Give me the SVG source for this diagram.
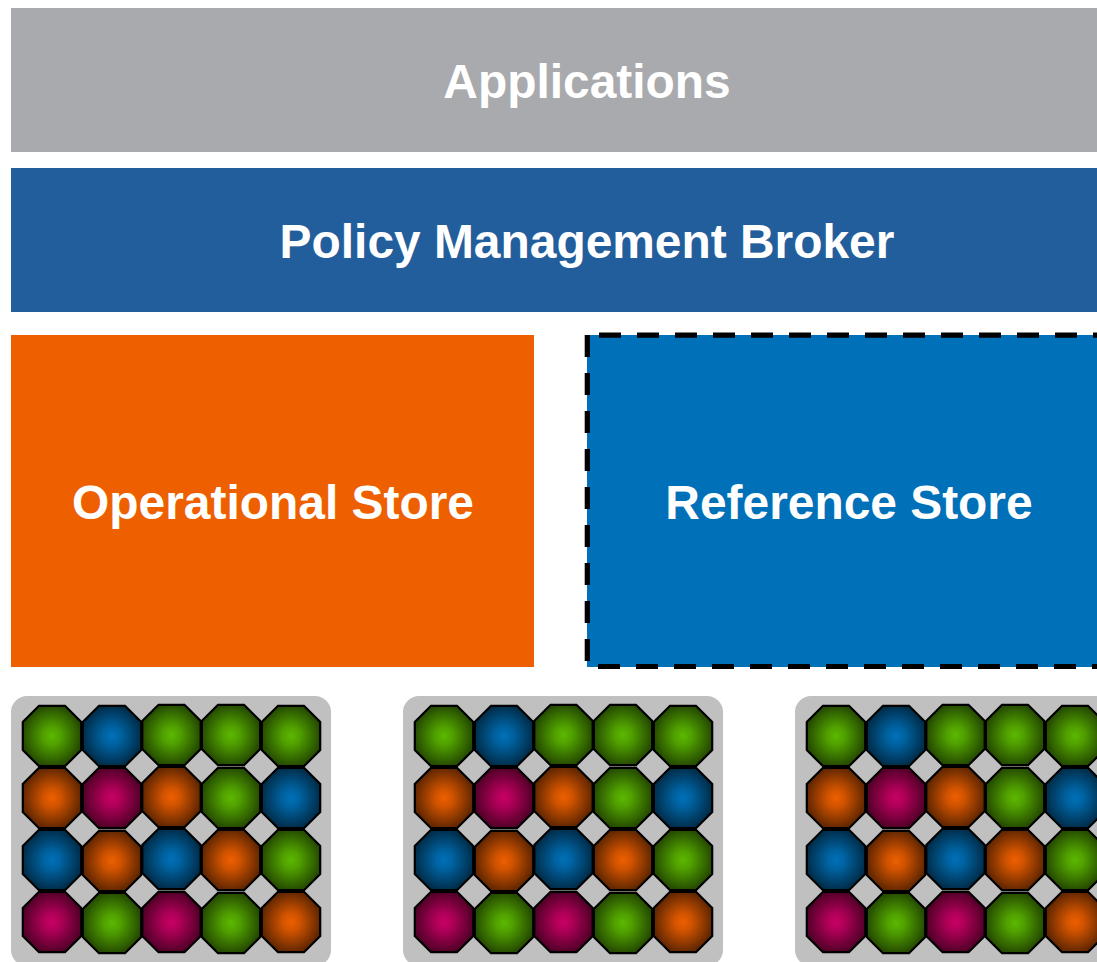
<svg xmlns="http://www.w3.org/2000/svg" width="1097" height="962" viewBox="0 0 1097 962">
<style>
.t{font-family:"Liberation Sans",Arial,sans-serif;font-weight:bold;font-size:47.9px;fill:#fff;text-anchor:middle}
.o{stroke:#000;stroke-width:2.2;stroke-linejoin:miter}
.d{fill:none;stroke:#000;stroke-width:5.2;stroke-dasharray:22 16}
.p{fill:#c0c0c0}
.g{fill:url(#gg)}.b{fill:url(#gb)}.r{fill:url(#gr)}.m{fill:url(#gm)}
</style>
<defs>
<radialGradient id="gg"><stop offset="0" stop-color="#5cb800"/><stop offset=".3" stop-color="#50a000"/><stop offset="1" stop-color="#264c00"/></radialGradient>
<radialGradient id="gb"><stop offset="0" stop-color="#0070b8"/><stop offset=".3" stop-color="#0062a0"/><stop offset="1" stop-color="#002e4c"/></radialGradient>
<radialGradient id="gr"><stop offset="0" stop-color="#ee5f00"/><stop offset=".3" stop-color="#d05300"/><stop offset="1" stop-color="#632700"/></radialGradient>
<radialGradient id="gm"><stop offset="0" stop-color="#c80064"/><stop offset=".3" stop-color="#ae0057"/><stop offset="1" stop-color="#530029"/></radialGradient>
<polygon id="oc" class="o" points="-13,-30.200 13,-30.200 29.200,-14 29.200,14 13,30.200 -13,30.200 -29.200,14 -29.200,-14"/>
<g id="pod">
<rect class="p" x="11" y="696" width="320" height="270" rx="16"/>
<use href="#oc" class="g" x="52" y="736"/><use href="#oc" class="b" x="112" y="736"/><use href="#oc" class="g" x="171.500" y="735"/><use href="#oc" class="g" x="231" y="735"/><use href="#oc" class="g" x="291" y="736"/>
<use href="#oc" class="r" x="52" y="798"/><use href="#oc" class="m" x="112" y="798"/><use href="#oc" class="r" x="171.500" y="797"/><use href="#oc" class="g" x="231" y="798"/><use href="#oc" class="b" x="291" y="798"/>
<use href="#oc" class="b" x="52" y="860"/><use href="#oc" class="r" x="112" y="861"/><use href="#oc" class="b" x="171.500" y="859"/><use href="#oc" class="r" x="231" y="860"/><use href="#oc" class="g" x="291" y="860"/>
<use href="#oc" class="m" x="52" y="922"/><use href="#oc" class="g" x="112" y="923"/><use href="#oc" class="m" x="171.500" y="922"/><use href="#oc" class="g" x="231" y="923"/><use href="#oc" class="r" x="291" y="922"/>
</g>
</defs>
<g id="applications"><rect x="11" y="8" width="1086" height="144" fill="#a9aaad"/><text class="t" x="587" y="98">Applications</text></g>
<g id="broker"><rect x="11" y="168" width="1086" height="144" fill="#225e9c"/><text class="t" x="587" y="258">Policy Management Broker</text></g>
<g id="operational-store"><rect x="11" y="335" width="523" height="332" fill="#ee5f00"/><text class="t" x="273" y="519">Operational Store</text></g>
<g id="reference-store"><rect x="587" y="335" width="510" height="332" fill="#0070b8"/>
<path class="d" d="M599 335.200H1097"/><path class="d" d="M587.300 335V666"/><path class="d" d="M598 666.500H1097"/>
<text class="t" x="849" y="519">Reference Store</text></g>
<g id="pod-1"><use href="#pod"/></g>
<g id="pod-2"><use href="#pod" x="392"/></g>
<g id="pod-3"><use href="#pod" x="784"/></g>
<g id="connectors"/>
</svg>
